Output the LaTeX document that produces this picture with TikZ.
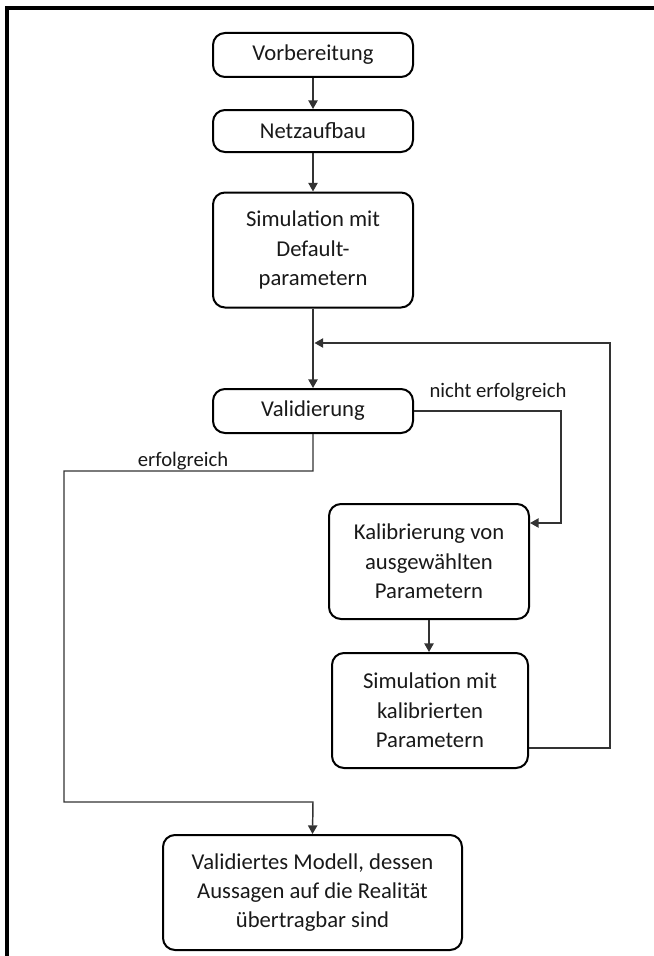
\documentclass[tikz,border=0pt]{standalone}
\usepackage{fontspec}
\setmainfont{Carlito}
\usetikzlibrary{arrows.meta}
\begin{document}
\begin{tikzpicture}[x=0.75pt,y=-0.75pt,
  stepbox/.style={draw=black,line width=1.5pt,rounded corners=9pt,
    align=center,inner sep=0pt,font=\fontsize{17}{22}\selectfont,text=black!90},
  conn/.style={draw=black!80,line width=1.1pt},
  arr/.style={conn,-{Triangle[length=6.5pt,width=7pt]}},
  lbl/.style={font=\fontsize{15.5}{18}\selectfont,text=black!90,inner sep=0pt}]
\useasboundingbox (0,0) rectangle (653,956);
\fill[white] (0,0) rectangle (653,956);
% partial frame along top and left edges
\draw[line width=3pt,line cap=rect] (7,956) -- (7,8) -- (653,8);

% main column
\node[stepbox,minimum width=200*0.75pt,minimum height=44*0.75pt] (vorb) at (313,55) {Vorbereitung};
\node[stepbox,minimum width=200*0.75pt,minimum height=42*0.75pt] (netz) at (313,131) {Netzaufbau};
\node[stepbox,minimum width=200*0.75pt,minimum height=115*0.75pt] (simdef) at (313,250) {Simulation mit\\Default-\\parametern};
\node[stepbox,minimum width=200*0.75pt,minimum height=44*0.75pt] (valid) at (313,411) {Validierung};

% calibration loop
\node[stepbox,minimum width=200*0.75pt,minimum height=115*0.75pt] (kal) at (429,561.5) {Kalibrierung von\\ausgewählten\\Parametern};
\node[stepbox,minimum width=196*0.75pt,minimum height=115*0.75pt] (simkal) at (430,710.5) {Simulation mit\\kalibrierten\\Parametern};

% final result
\node[stepbox,minimum width=299*0.75pt,minimum height=115*0.75pt] (final) at (312.5,892.5) {Validiertes Modell, dessen\\Aussagen auf die Realität\\übertragbar sind};

% straight arrows
\draw[arr] (vorb) -- (netz);
\draw[arr] (netz) -- (simdef);
\draw[arr] (simdef) -- (valid);
\draw[arr] (kal) -- (simkal.north -| kal.south);

% feedback from calibrated simulation back to validation
\coordinate (fbA) at (610,748);
\coordinate (fbB) at (610,343);
\coordinate (fbC) at (314.5,343);
\draw[arr] (simkal.east |- fbA) -- (fbA) -- (fbB) -- (fbC);

% not successful branch
\coordinate (neA) at (561,411);
\coordinate (neB) at (561,523);
\draw[arr] (valid.east) -- (neA) -- (neB) -- (kal.east |- neB);
\node[lbl] (nlbl) at (498,392) {nicht erfolgreich};

% successful branch
\coordinate (erA) at (313,471);
\coordinate (erB) at (64,471);
\coordinate (erC) at (64,802);
\coordinate (erD) at (313,802);
\draw[arr] (valid.south) -- (erA) -- (erB) -- (erC) -- (erD) -- (final.north);
\node[lbl] (elbl) at (183,461) {erfolgreich};
\end{tikzpicture}
\end{document}
